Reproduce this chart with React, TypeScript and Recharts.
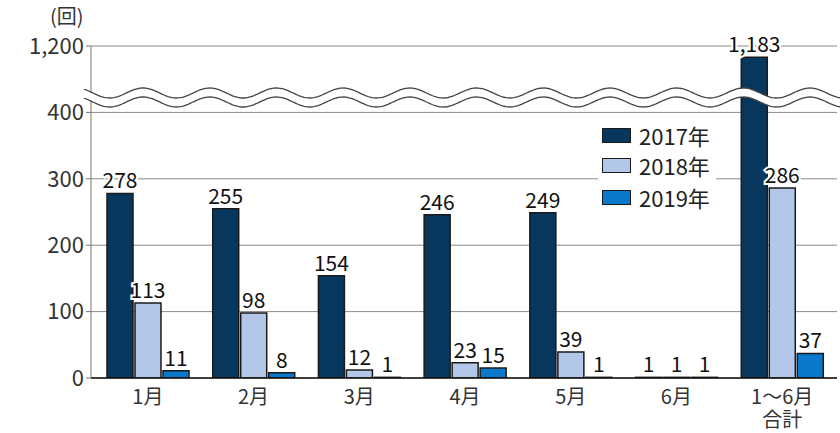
import { BarChart, Bar, XAxis, YAxis, CartesianGrid, LabelList } from "recharts";

const months = ["1月", "2月", "3月", "4月", "5月", "6月", "1〜6月\n合計"];
const y2017 = [278, 255, 154, 246, 249, 1, 1183];
const y2018 = [113, 98, 12, 23, 39, 1, 286];
const y2019 = [11, 8, 1, 15, 1, 1, 37];
const yTicks = [0, 100, 200, 300, 400, 1200];

// broken axis: the 400..1100 span is cut out
const BREAK_FROM = 400;
const BREAK_GAP = 700;
const toAxis = (v: number) => (v > BREAK_FROM ? v - BREAK_GAP : v);
const fromAxis = (v: number) => (v > BREAK_FROM ? v + BREAK_GAP : v);

const series = [
  { key: "a", raw: "ra", name: "2017年", color: "#07375c" },
  { key: "b", raw: "rb", name: "2018年", color: "#b3c8e8" },
  { key: "c", raw: "rc", name: "2019年", color: "#0a78cb" },
];

const data = months.map((m, i) => ({
  month: m,
  a: toAxis(y2017[i]),
  b: toAxis(y2018[i]),
  c: toAxis(y2019[i]),
  ra: y2017[i],
  rb: y2018[i],
  rc: y2019[i],
}));

const FONT = '"Noto Sans CJK JP", "Noto Sans", sans-serif';

function ValueLabel(props: any) {
  const { x, y, width, value } = props;
  return (
    <text
      x={x + width / 2}
      y={y - 5}
      textAnchor="middle"
      fontSize={21}
      fontFamily={FONT}
      fill="#111"
      stroke="#fff"
      strokeWidth={4}
      paintOrder="stroke"
    >
      {Number(value).toLocaleString("en-US")}
    </text>
  );
}

function MonthTick(props: any) {
  const { x, y, payload } = props;
  const lines = String(payload.value).split("\n");
  return (
    <g>
      {lines.map((l, i) => (
        <text
          key={i}
          x={x}
          y={y + 18 + i * 23}
          textAnchor="middle"
          fontSize={20}
          fontFamily={FONT}
          fill="#333"
        >
          {l}
        </text>
      ))}
    </g>
  );
}

function wavePath(cy: number, x0: number, x1: number) {
  const pts: string[] = [];
  for (let x = x0; x <= x1; x += 2) {
    const y = cy - 5 * Math.cos(((x - 143) / 66.7) * 2 * Math.PI);
    pts.push(`${x},${y.toFixed(2)}`);
  }
  return pts;
}

function BreakMark() {
  const top = wavePath(93, 84, 840);
  const bottom = wavePath(102, 84, 840);
  const fill = "M" + top.join(" L") + " L" + [...bottom].reverse().join(" L") + " Z";
  return (
    <svg
      width={840}
      height={433}
      style={{ position: "absolute", left: 0, top: 0, pointerEvents: "none" }}
    >
      <path d={fill} fill="#fff" stroke="none" />
      <path d={"M" + top.join(" L")} fill="none" stroke="#444" strokeWidth={1.3} />
      <path d={"M" + bottom.join(" L")} fill="none" stroke="#444" strokeWidth={1.3} />
    </svg>
  );
}

export default function App() {
  return (
    <div style={{ position: "absolute", left: 0, top: 0, width: 840, height: 433, background: "#fff", fontFamily: FONT }}>
      <BarChart
        width={840}
        height={433}
        data={data}
        margin={{ top: 46, right: 3, left: 8, bottom: 0 }}
        barGap={2}
        barSize={26}
      >
        <CartesianGrid vertical={false} stroke="#8a8a8a" strokeWidth={1} />
        <XAxis
          dataKey="month"
          height={55}
          tick={<MonthTick />}
          tickLine={false}
          axisLine={{ stroke: "#111", strokeWidth: 1.5 }}
          padding={{ left: 4, right: 2 }}
          interval={0}
        />
        <YAxis
          width={83}
          domain={[0, toAxis(1200)]}
          ticks={yTicks.map(toAxis)}
          tickFormatter={(v: number) => fromAxis(v).toLocaleString("en-US")}
          tick={{ fill: "#333", fontSize: 22, fontFamily: FONT }}
          tickSize={5}
          tickLine={{ stroke: "#777" }}
          axisLine={{ stroke: "#777" }}
          allowDataOverflow
        />
        <YAxis
          yAxisId="right"
          orientation="right"
          width={0}
          domain={[0, toAxis(1200)]}
          tick={false}
          tickLine={false}
          axisLine={{ stroke: "#777" }}
        />
        {series.map((s) => (
          <Bar
            key={s.key}
            dataKey={s.key}
            name={s.name}
            fill={s.color}
            stroke="#1a1a1a"
            strokeWidth={1.5}
            isAnimationActive={false}
          >
            <LabelList dataKey={s.raw} content={<ValueLabel />} />
          </Bar>
        ))}
      </BarChart>
      <BreakMark />
      <div
        style={{
          position: "absolute",
          left: 50,
          top: 5,
          fontSize: 20,
          lineHeight: "22px",
          color: "#333",
        }}
      >
        (回)
      </div>
      <div
        style={{
          position: "absolute",
          left: 598,
          top: 120,
          background: "#fff",
          padding: "0 6px 0 4px",
        }}
      >
        {series.map((s, i) => (
          <div
            key={s.key}
            style={{
              display: "flex",
              alignItems: "center",
              height: 30,
              marginTop: i === 2 ? 2 : 0,
            }}
          >
            <span
              style={{
                display: "inline-block",
                width: 27,
                height: 13,
                background: s.color,
                border: "1.5px solid #1a1a1a",
                marginRight: 8,
              }}
            />
            <span style={{ fontSize: 22, color: "#222" }}>{s.name}</span>
          </div>
        ))}
      </div>
    </div>
  );
}
